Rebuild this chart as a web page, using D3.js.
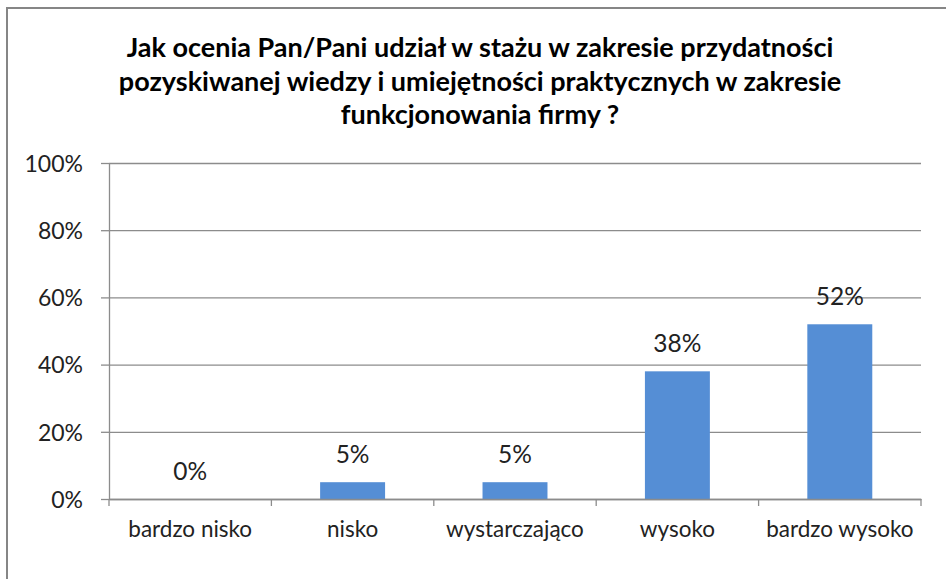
<!DOCTYPE html>
<html>
<head>
<meta charset="utf-8">
<script src="https://cdn.jsdelivr.net/npm/d3@7"></script>
<style>
  body { margin: 0; background: #fff; }
  svg { display: block; font-family: Lato, "Open Sans", sans-serif; }
</style>
</head>
<body>
<svg id="chart" width="946" height="579"></svg>
<script>
// chart data
var titleLines = [
    "Jak ocenia Pan/Pani udział w stażu w zakresie przydatności",
    "pozyskiwanej wiedzy i umiejętności praktycznych w zakresie",
    "funkcjonowania firmy ?"
];
var categories = ["bardzo nisko", "nisko", "wystarczająco", "wysoko", "bardzo wysoko"];
var values = [0, 5, 5, 38, 52];
var yTicks = [0, 20, 40, 60, 80, 100];

var svg = d3.select("#chart"),
    plotLeft = 109,
    plotRight = 921,
    plotTop = 163,
    plotBottom = 499;

// outer frame (right and bottom edges fall outside the picture)
svg.append("rect")
    .attr("x", 7)
    .attr("y", 8)
    .attr("width", 1000)
    .attr("height", 1000)
    .attr("fill", "none")
    .attr("stroke", "#868686")
    .attr("stroke-width", 2);

var xScale = d3.scaleBand().domain(categories).range([plotLeft, plotRight]).paddingInner(0).paddingOuter(0),
    yScale = d3.scaleLinear().domain([0, 100]).range([plotBottom, plotTop]);

// title
svg.append("g").selectAll("text")
    .data(titleLines)
    .enter().append("text")
    .attr("x", 480)
    .attr("y", function (d, i) { return 57 + i * 33.5; })
    .attr("text-anchor", "middle")
    .style("font-weight", "bold")
    .style("font-size", "27px")
    .style("fill", "#000")
    .text(function (d) { return d; });

// gridlines
svg.append("g")
    .attr("class", "grid")
    .attr("transform", "translate(" + plotLeft + ",0)")
    .call(d3.axisLeft(yScale).tickValues(yTicks).tickSize(-(plotRight - plotLeft)).tickFormat(""))
    .call(function (g) { g.select(".domain").remove(); })
    .selectAll("line")
    .attr("stroke", "#8c8c8c")
    .attr("stroke-width", 1.3);

// y axis
var yAxis = svg.append("g")
    .attr("transform", "translate(" + plotLeft + ",0)")
    .call(d3.axisLeft(yScale).tickValues(yTicks).tickSize(8).tickSizeOuter(0).tickPadding(18)
        .tickFormat(function (d) { return d + "%"; }));
yAxis.select(".domain").attr("stroke", "#8c8c8c").attr("stroke-width", 1.3);
yAxis.selectAll("line").attr("stroke", "#8c8c8c").attr("stroke-width", 1.3);
yAxis.selectAll("text")
    .attr("dy", "0.36em")
    .style("font-size", "23px")
    .style("font-family", "Lato, sans-serif")
    .style("fill", "#222");

// bars
svg.append("g").selectAll("rect")
    .data(values)
    .enter().append("rect")
    .attr("x", function (d, i) { return xScale(categories[i]) + xScale.bandwidth() * 0.3; })
    .attr("width", xScale.bandwidth() * 0.4)
    .attr("y", function (d) { return yScale(d); })
    .attr("height", function (d) { return yScale(0) - yScale(d); })
    .style("fill", "#558ed5");

// x axis
var xAxis = svg.append("g")
    .attr("transform", "translate(0," + plotBottom + ")")
    .call(d3.axisBottom(xScale).tickSize(0).tickSizeOuter(0).tickPadding(0));
xAxis.select(".domain").attr("stroke", "#8c8c8c").attr("stroke-width", 1.3);
xAxis.selectAll("text")
    .attr("y", 38)
    .attr("dy", 0)
    .style("font-size", "22.5px")
    .style("font-family", "Lato, sans-serif")
    .style("fill", "#222");

// category boundary ticks
var bounds = categories.map(function (c) { return xScale(c); }).concat([plotRight]);
svg.append("g").selectAll("line")
    .data(bounds)
    .enter().append("line")
    .attr("x1", function (d) { return d; })
    .attr("x2", function (d) { return d; })
    .attr("y1", plotBottom)
    .attr("y2", plotBottom + 7)
    .attr("stroke", "#8c8c8c")
    .attr("stroke-width", 1.3);

// value labels
svg.append("g").selectAll("text")
    .data(values)
    .enter().append("text")
    .attr("x", function (d, i) { return xScale(categories[i]) + xScale.bandwidth() / 2; })
    .attr("y", function (d) { return yScale(d) - 19; })
    .attr("text-anchor", "middle")
    .style("font-size", "24.5px")
    .style("fill", "#222")
    .text(function (d) { return d + "%"; });
</script>
</body>
</html>
